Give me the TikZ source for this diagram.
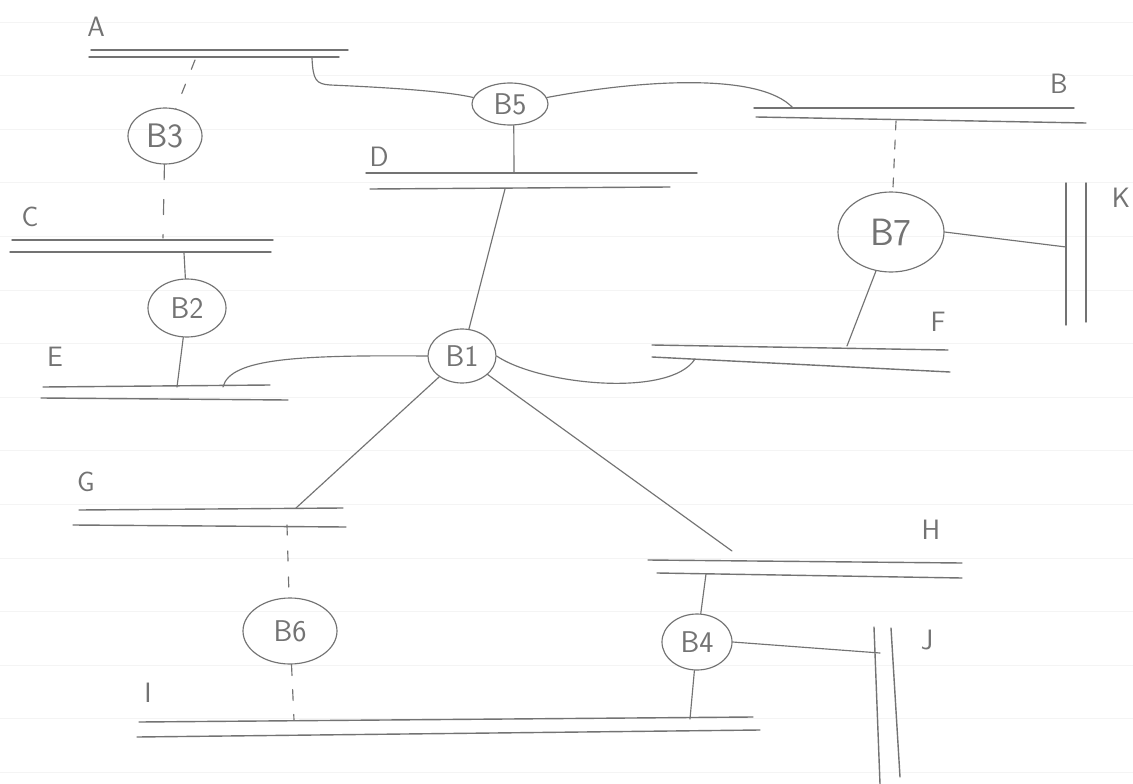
\documentclass[tikz,border=0pt]{standalone}
\usetikzlibrary{shapes.geometric}
\definecolor{pencil}{gray}{0.45}
\definecolor{ruled}{gray}{0.955}
\tikzset{
  seg/.style={draw=pencil, line width=1.4pt, line cap=round},
  wire/.style={draw=pencil, line width=1.15pt, line cap=round},
  dwire/.style={wire, dash pattern=on 10pt off 16pt},
  bridge/.style={ellipse, draw=pencil, line width=1.15pt, inner sep=0pt, text=pencil,
    font=\sffamily\fontsize{30}{30}\selectfont},
  seglabel/.style={text=pencil, inner sep=0pt, font=\sffamily\fontsize{28}{28}\selectfont},
}
\begin{document}
\begin{tikzpicture}[x=1pt,y=-1pt]
\useasboundingbox (0,0) rectangle (1133,784);
\fill[white] (0,0) rectangle (1133,784);
% faint ruled paper lines
\foreach \k in {0,...,14} \draw[ruled, line width=0.8pt] (0,22+53.6*\k) -- (1133,22+53.6*\k);

% LAN segments (double lines)
\draw[seg] (91,50) -- (348,50);   \draw[seg] (89,57) -- (339,57);     % A
\draw[seg] (754,108) -- (1074,108); \draw[seg] (756,117) -- (1086,123); % B
\draw[seg] (12,240) -- (273,240); \draw[seg] (10,252) -- (271,252);   % C
\draw[seg] (366,173) -- (697,173); \draw[seg] (370,189) -- (670,187); % D
\draw[seg] (43,387) -- (270,385); \draw[seg] (41,398) -- (288,400);   % E
\draw[seg] (652,345) -- (948,350); \draw[seg] (652,357) -- (950,372); % F
\draw[seg] (79,510) -- (343,508); \draw[seg] (73,525) -- (346,527);   % G
\draw[seg] (648,560) -- (962,563); \draw[seg] (657,573) -- (962,578); % H
\draw[seg] (139,722) -- (753,717); \draw[seg] (137,737) -- (760,730); % I
\draw[seg] (874,627) -- (880,784); \draw[seg] (891,628) -- (900,777); % J
\draw[seg] (1066,183) -- (1066,325); \draw[seg] (1086,183) -- (1086,322); % K

% segment labels
\node[seglabel] (lA) at (96,27) {A};
\node[seglabel] (lB) at (1059,84) {B};
\node[seglabel] (lC) at (30,217) {C};
\node[seglabel] (lD) at (379,157) {D};
\node[seglabel] (lE) at (55,357) {E};
\node[seglabel] (lF) at (938,322) {F};
\node[seglabel] (lG) at (86,482) {G};
\node[seglabel] (lH) at (931,530) {H};
\node[seglabel] (lI) at (148,693) {I};
\node[seglabel] (lJ) at (927,640) {J};
\node[seglabel] (lK) at (1121,198) {K};

% bridges
\node[bridge, minimum width=74pt, minimum height=56pt, font=\sffamily\fontsize{34}{34}\selectfont] (B3) at (165,136) {B3};
\node[bridge, minimum width=76pt, minimum height=42pt] (B5) at (510,104) {B5};
\node[bridge, minimum width=78pt, minimum height=58pt] (B2) at (187,308) {B2};
\node[bridge, minimum width=68pt, minimum height=54pt] (B1) at (462,356) {B1};
\node[bridge, minimum width=106pt, minimum height=80pt, font=\sffamily\fontsize{38}{38}\selectfont] (B7) at (891,232) {B7};
\node[bridge, minimum width=94pt, minimum height=66pt] (B6) at (290,631) {B6};
\node[bridge, minimum width=70pt, minimum height=56pt] (B4) at (697,642) {B4};

% attachment points on segments
\coordinate (a3) at (195,60);
\coordinate (c3) at (163,238);
\coordinate (c2) at (184,253);
\coordinate (e2) at (177,387);
\coordinate (a5) at (312,58);
\coordinate (b5) at (793,108);
\coordinate (d5) at (514,173);
\coordinate (d1) at (505,189);
\coordinate (e1) at (223,387);
\coordinate (f1) at (695,359);
\coordinate (g1) at (296,508);
\coordinate (h1) at (732,551);
\coordinate (g6) at (287,525);
\coordinate (i6) at (294,720);
\coordinate (h4) at (706,574);
\coordinate (j4) at (880,653);
\coordinate (i4) at (690,719);
\coordinate (b7) at (896,121);
\coordinate (k7) at (1066,247);
\coordinate (f7) at (847,346);

% connectors
\draw[dwire] (a3) -- (B3);
\draw[wire, dash pattern=on 15pt off 20pt] (B3) -- (c3);
\draw[wire] (c2) -- (B2);
\draw[wire] (B2) -- (e2);
\draw[wire] (a5) .. controls (313,80) and (316,84) .. (330,85)
            .. controls (400,88) and (450,92) .. (B5.170);
\draw[wire] (B5.10) .. controls (640,80) and (760,72) .. (b5);
\draw[wire] (B5.-80) -- (d5);
\draw[wire] (d1) -- (B1);
\draw[wire] (B1.west) .. controls (300,355) and (230,358) .. (e1);
\draw[wire] (B1.east) .. controls (540,385) and (670,398) .. (f1);
\draw[wire] (B1) -- (g1);
\draw[wire] (B1) -- (h1);
\draw[dwire] (g6) -- (B6);
\draw[wire, dash pattern=on 11pt off 14pt] (B6) -- (i6);
\draw[wire] (h4) -- (B4);
\draw[wire] (B4.east) -- (j4);
\draw[wire] (B4) -- (i4);
\draw[wire, dash pattern=on 9pt off 10pt] (b7) -- (B7);
\draw[wire] (B7.east) -- (k7);
\draw[wire] (B7) -- (f7);
\end{tikzpicture}
\end{document}
